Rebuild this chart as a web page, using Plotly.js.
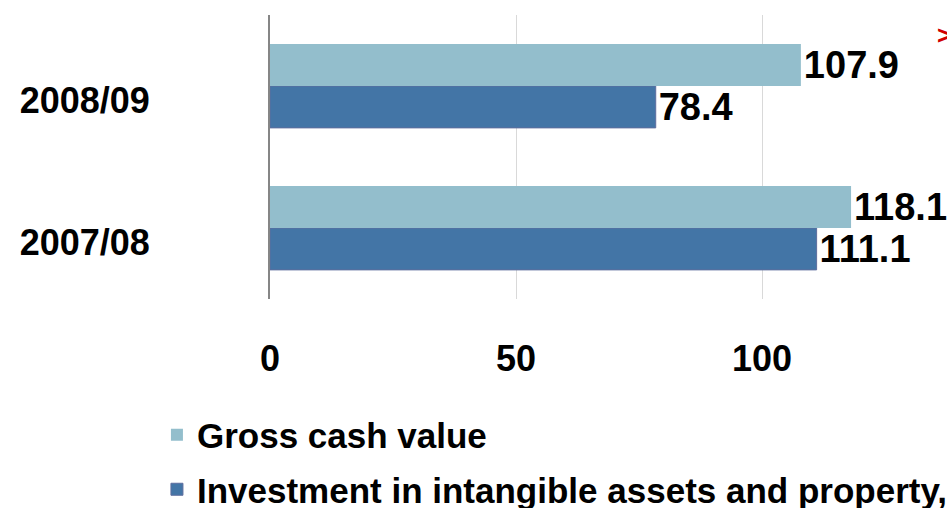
<!DOCTYPE html>
<html>
<head>
<meta charset="utf-8">
<script src="https://cdn.plot.ly/plotly-3.0.1.min.js"></script>
<style>html,body{margin:0;padding:0;background:#fff;}#chart{width:947px;height:508px;}</style>
</head>
<body>
<div id="chart"></div>
<script>
const categories = ["2007/08", "2008/09"];
const seriesNames = ["Gross cash value", "Investment in intangible assets and property,"];
const grossCash = [118.1, 107.9];
const investment = [111.1, 78.4];
const xTickVals = [0, 50, 100];
const xTickText = ["0", "50", "100"];

const FONT = "Liberation Sans, Arial, sans-serif";
const labelFont = {family: FONT, size: 38, color: "#000", weight: 700};

const traces = [
  {
    type: "bar", orientation: "h", name: seriesNames[1], legendgroup: "g2", legendrank: 2,
    y: categories, x: investment,
    text: investment.map(v => v.toFixed(1)),
    textposition: "outside", cliponaxis: false, constraintext: "none",
    textfont: labelFont,
    marker: {color: "#4375A6", line: {color: "#5E6E9E", width: 1}},
    hoverinfo: "skip"
  },
  {
    type: "bar", orientation: "h", name: seriesNames[0], legendgroup: "g1", legendrank: 1,
    y: categories, x: grossCash,
    text: grossCash.map(v => v.toFixed(1)),
    textposition: "outside", cliponaxis: false, constraintext: "none",
    textfont: labelFont,
    marker: {color: "#93BECC", line: {width: 0}},
    hoverinfo: "skip"
  }
];

const layout = {
  width: 947, height: 508,
  margin: {l: 270, r: 0, t: 15, b: 209, autoexpand: false},
  paper_bgcolor: "#fff", plot_bgcolor: "#fff",
  barmode: "group", bargap: 0.41, bargroupgap: 0,
  showlegend: true,
  legend: {
    orientation: "v", traceorder: "grouped",
    x: -0.167, xanchor: "left", y: -0.375, yanchor: "top",
    font: {family: FONT, size: 35, color: "#000", weight: 700},
    tracegroupgap: 6, bgcolor: "rgba(0,0,0,0)"
  },
  xaxis: {
    range: [0, 137.6], tickvals: xTickVals, ticktext: xTickText,
    showgrid: true, gridcolor: "#D9D9D9", gridwidth: 1,
    zeroline: false, showline: false, ticks: "",
    ticklabelstandoff: 35,
    tickfont: {family: FONT, size: 36, color: "#000", weight: 700},
    fixedrange: true
  },
  yaxis: {
    type: "category", categoryorder: "array", categoryarray: categories,
    showgrid: false, zeroline: false,
    showline: true, linecolor: "#868686", linewidth: 2,
    ticks: "", ticklabelstandoff: 111, ticklabelshift: 14,
    tickfont: {family: FONT, size: 36, color: "#000", weight: 700},
    fixedrange: true
  },
  annotations: [{
    xref: "paper", yref: "paper", x: 0.983, y: 0.93,
    xanchor: "left", yanchor: "middle", showarrow: false,
    text: ">", font: {family: FONT, size: 26, color: "#D00000", weight: 700}
  }]
};

Plotly.newPlot("chart", traces, layout, {displayModeBar: false, staticPlot: true});
</script>
</body>
</html>
